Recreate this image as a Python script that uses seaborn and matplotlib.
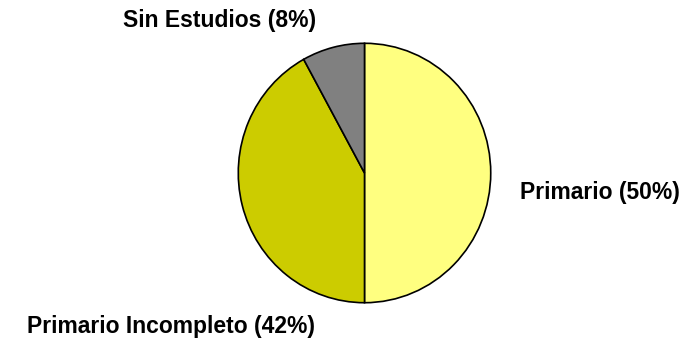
import matplotlib
matplotlib.use("Agg")
import matplotlib.pyplot as plt
import seaborn as sns

categories = ["Primario", "Primario Incompleto", "Sin Estudios"]
values = [50, 42, 8]
colors = ["#FFFF80", "#CCCC00", "#808080"]

sns.set_theme(style="white")
plt.rcParams['font.family'] = ['Liberation Sans', 'DejaVu Sans']

W, H = 692, 345
fig = plt.figure(figsize=(W / 100, H / 100), dpi=100)
fig.patch.set_facecolor("white")

l, r, t, b = 237, 492, 42, 304
ax = fig.add_axes([l / W, 1 - b / H, (r - l) / W, (b - t) / H])
ax.pie(values, colors=colors, startangle=90, counterclock=False,
       wedgeprops=dict(edgecolor="black", linewidth=1.2))
ax.set_aspect("auto")
ax.set_xlim(-1.01, 1.01)
ax.set_ylim(-1.01, 1.01)
ax.axis("off")

labels = [f"{c} ({v}%)" for c, v in zip(categories, values)]
pos = [(600, 193), (171, 327), (220, 20)]
for lab, (x, y) in zip(labels, pos):
    fig.text(x / W, 1 - y / H, lab, ha="center", va="center",
             fontsize=16.5, fontweight="bold", color="black")

fig.savefig("out.png", dpi=100, facecolor="white")
